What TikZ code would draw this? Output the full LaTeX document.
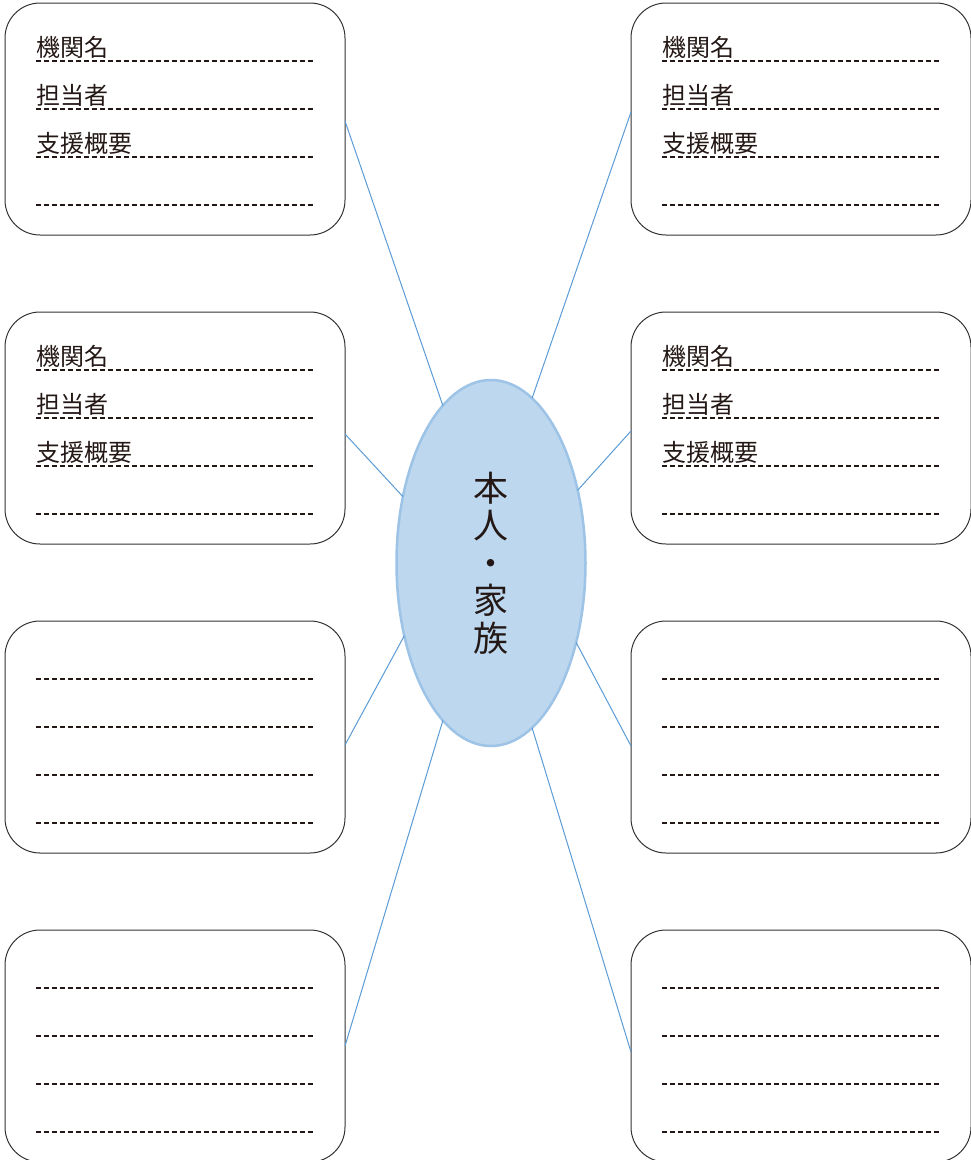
\documentclass[tikz,border=0pt]{standalone}
\usepackage{fontspec}
\setmainfont{Noto Sans CJK JP}
\usepackage{tikz}
\usetikzlibrary{positioning, shapes.geometric}

\definecolor{inkdark}{HTML}{231815}
\definecolor{linkblue}{HTML}{5B9BD5}
\definecolor{ovalfill}{HTML}{BDD7EE}
\definecolor{ovaledge}{HTML}{9DC3E6}

\begin{document}
\begin{tikzpicture}[
		x=1pt, y=-1pt,
		% vertical gap between boxes, horizontal gap between the two columns
		node distance=77pt and 286pt,
		box/.style={
			rectangle,
			draw=black!80,
			line width=1pt,
			rounded corners=35pt,
			minimum width=340pt,
			minimum height=232pt,
			inner sep=0pt,
			outer sep=0pt
		},
		oval/.style={
			ellipse,
			draw=ovaledge,
			line width=2.5pt,
			fill=ovalfill,
			minimum width=189pt,
			minimum height=366pt,
			inner sep=0pt,
			outer sep=0pt,
			text=inkdark,
			align=center,
			font=\fontsize{35}{37.5}\selectfont
		},
		fieldline/.style={dash pattern=on 5pt off 3pt, line width=1.5pt, draw=inkdark},
		field/.style={anchor=base west, inner sep=0pt, text=inkdark, font=\fontsize{24}{28}\selectfont},
		link/.style={draw=linkblue, line width=1pt}
	]
	
	\useasboundingbox (0,0) rectangle (971,1160);
	
	% --- 1. Centre (the person and family) ---
	\node[oval] (self) at (491,563) {本\\人\\・\\家\\族};
	
	% --- 2. Left column ---
	\node[box] (l1) at (175,119) {};
	\node[box, below=of l1] (l2) {};
	\node[box, below=of l2] (l3) {};
	\node[box, below=of l3] (l4) {};
	
	% --- 3. Right column ---
	\node[box, right=of l1] (r1) {};
	\node[box, right=of l2] (r2) {};
	\node[box, right=of l3] (r3) {};
	\node[box, right=of l4] (r4) {};
	
	% --- 4. Writing lines in every box ---
	\foreach \b in {l1,l2,l3,l4,r1,r2,r3,r4}
	\foreach \k in {58,106,154,202}
	\draw[fieldline] ([xshift=31pt, yshift=-\k pt]\b.north west) -- ++(277,0);
	
	% --- 5. Field names (top two boxes of each side only) ---
	\foreach \b in {l1,l2,r1,r2} {
		\node[field] (\b-org) at ([xshift=31pt, yshift=-53pt]\b.north west) {機関名};
		\node[field] (\b-staff) at ([xshift=31pt, yshift=-101pt]\b.north west) {担当者};
		\node[field] (\b-aid) at ([xshift=31pt, yshift=-149pt]\b.north west) {支援概要};
	}
	
	% --- 6. Links from the boxes to the centre ---
	\draw[link] ([yshift=-2pt]l1.east) -- (self.107);
	\draw[link] ([yshift=-6pt]l2.east) -- (self.143);
	\draw[link] ([yshift=-8pt]l3.east) -- (self.220);
	\draw[link] (l4.east) -- (self.253);
	\draw[link] ([yshift=7pt]r1.west) -- (self.76);
	\draw[link] ([yshift=-3pt]r2.west) -- (self.40);
	\draw[link] ([yshift=-9pt]r3.west) -- (self.317);
	\draw[link] ([yshift=-6pt]r4.west) -- (self.284);
	
\end{tikzpicture}
\end{document}
